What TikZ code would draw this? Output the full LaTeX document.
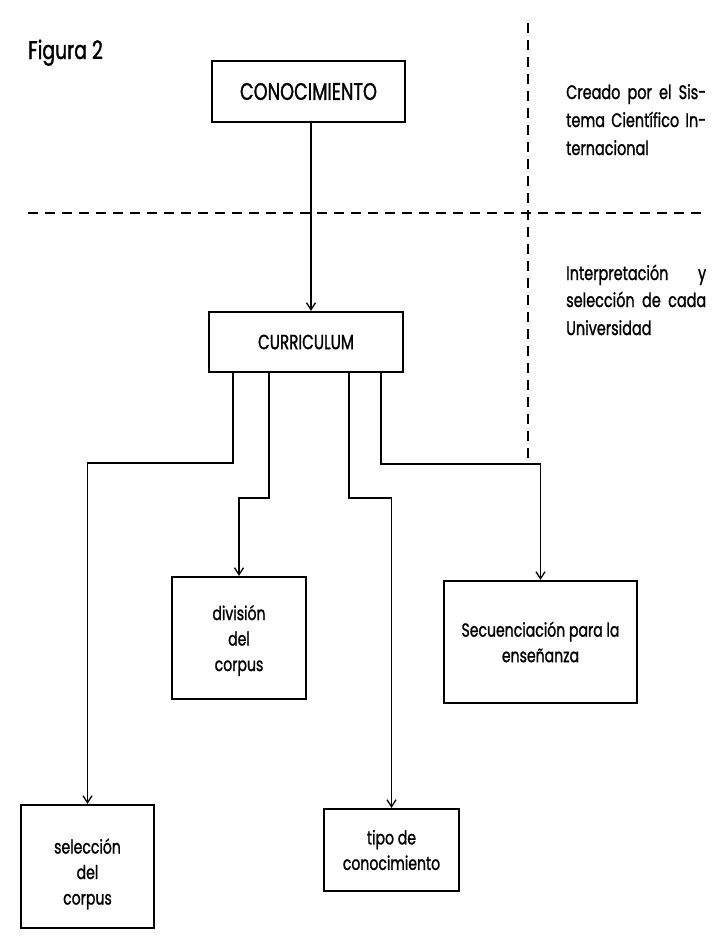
\documentclass[tikz,border=0pt]{standalone}
\usepackage{fontspec}
\setmainfont{Poppins}[FakeStretch=0.74, FakeBold=1.2]
\usetikzlibrary{arrows.meta,positioning}

\tikzset{
  box/.style={draw, line width=2.2pt, rectangle, inner sep=0pt, align=center},
  link/.style={line width=1.6pt},
  arr/.style={link, -{Straight Barb[length=7pt,width=9pt,line width=1.3pt]}},
  divider/.style={line width=1.4pt, dash pattern=on 10pt off 7pt},
  sidetext/.style={font=\fontsize{19.5}{28}\selectfont, anchor=base west, inner sep=0pt},
  boxtext/.style={font=\fontsize{19}{25.5}\selectfont},
}

\begin{document}
\begin{tikzpicture}[x=1pt,y=-1pt]
  \useasboundingbox (0,0) rectangle (719,943);

  % title
  \node[anchor=base west, inner sep=0pt, font=\fontsize{25.5}{30}\selectfont] (fig) at (28,59) {Figura 2};

  % boxes
  \node[box, font=\fontsize{24}{28}\selectfont, minimum width=193pt, minimum height=61pt] (conoc) at (308.5,91.5) {CONOCIMIENTO};
  \node[box, font=\fontsize{20.5}{26}\selectfont, minimum width=194pt, minimum height=60pt] (curr) at (306,342) {CURRICULUM};
  \node[box, boxtext, minimum width=134pt, minimum height=122pt] (div) at (239,638) {\rule{0pt}{20pt}división\\del\\corpus};
  \node[box, boxtext, minimum width=193pt, minimum height=122pt] (sec) at (540.5,642) {Secuenciación para la\\enseñanza};
  \node[box, boxtext, minimum width=133pt, minimum height=123pt] (sel) at (87.5,866.5) {\rule{0pt}{30pt}selección\\del\\corpus};
  \node[box, boxtext, minimum width=135pt, minimum height=82pt] (tipo) at (391.5,850) {tipo de\\conocimiento};

  % dividing lines
  \coordinate (hl) at (28,213);
  \coordinate (hr) at (705,213);
  \coordinate (vt) at (528,23);
  \coordinate (vb) at (528,460);
  \draw[divider] (hl) -- (hr);
  \draw[divider] (vt) -- (vb);

  % side notes, set as a justified column
  \node[sidetext] (n1) at (566,99) {\hbox to 140pt{Creado\hfill por\hfill el\hfill Sis-}};
  \node[sidetext] (n2) at (566,127) {\hbox to 140pt{tema\hfill Científico\hfill In-}};
  \node[sidetext] (n3) at (566,155) {ternacional};
  \node[sidetext] (m1) at (566,280) {\hbox to 140pt{Interpretación\hfill y}};
  \node[sidetext] (m2) at (566,307) {\hbox to 140pt{selección\hfill de\hfill cada}};
  \node[sidetext] (m3) at (566,335) {Universidad};

  % connectors
  \draw[arr] ([xshift=2.5pt]conoc.south) -- ([xshift=5pt]curr.north);
  \draw[arr] ([xshift=-73pt]curr.south) -- ++(0,90) -| (sel.north);
  \draw[arr] ([xshift=-37pt]curr.south) -- ++(0,125) -| (div.north);
  \draw[arr] ([xshift=43pt]curr.south) -- ++(0,125) -| (tipo.north);
  \draw[arr] ([xshift=75pt]curr.south) -- ++(0,91) -| (sec.north);
\end{tikzpicture}
\end{document}
